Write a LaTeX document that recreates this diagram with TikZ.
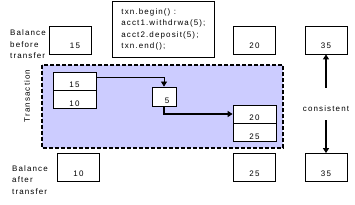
\documentclass[tikz,border=0pt]{standalone}
\usepackage{fontspec}
\setmainfont{Liberation Sans}[LetterSpace=14]
\usepackage{xcolor}
\usetikzlibrary{positioning,arrows.meta,calc}

\definecolor{txnfill}{HTML}{CCCCFF}

\begin{document}
\begin{tikzpicture}[
          x=1pt, y=-1pt,
          every node/.style={font=\fontsize{8}{11.5}\selectfont},
          acct/.style={draw, fill=white, line width=0.8pt, minimum width=42pt, minimum height=28pt, inner sep=0pt, text height=18pt, text depth=0pt},
          half/.style={draw, fill=white, line width=0.8pt, minimum width=43pt, minimum height=18pt, inner sep=0pt, text height=14pt, text depth=0pt},
          label/.style={align=left, anchor=north west, inner sep=0pt},
          flow/.style={-{Triangle[length=5pt,width=6pt]}, line width=1.6pt},
          thin flow/.style={-{Triangle[length=5pt,width=6pt]}, line width=0.8pt}
      ]
        \useasboundingbox (0,0) rectangle (355,205);
        % transaction area
        \draw[fill=txnfill, line width=1.6pt, dash pattern=on 4pt off 2pt] (42,65) rectangle (283,148);
        \node[rotate=90, inner sep=0pt] (txn) at (27,96) {Transaction};
        % code
        \node[draw, line width=0.8pt, fill=white, align=left, anchor=north west, minimum width=102pt, minimum height=55.5pt, inner xsep=9pt, inner ysep=0pt] (code) at (112,1.5)
          {txn.begin() :\\acct1.withdrwa(5);\\acct2.deposit(5);\\txn.end();};
        % before
        \node[label] (before) at (10,30) {Balance\\before\\transfer};
        \node[acct] (b15) at (70,40) {\hspace{10pt}15};
        \node[acct] (b20) at (254.5,40) {20};
        \node[acct] (b35) at (326,40) {35};
        % inside transaction
        \node[half] (t15) at (74.5,81) {15};
        \node[half, below=0pt of t15] (t10) {10};
        \node[half, minimum width=24pt, minimum height=19pt] (b5) at (164,96.5) {\hspace{6pt}5};
        \node[half] (a20) at (254.5,114) {20};
        \node[half, below=0pt of a20] (a25) {25};
        \draw[thin flow] ([yshift=-6pt]t15.north east) -| (b5.north);
        \draw[flow] (b5.south) |- (a20.west);
        % after
        \node[label] (after) at (12,165.5) {Balance\\after\\transfer};
        \node[acct] (f10) at (78.5,167.5) {10};
        \node[acct] (f25) at (254.5,167.5) {25};
        \node[acct] (f35) at (326,167.5) {35};
        % consistent
        \node[inner sep=0pt, text height=6pt, text depth=0pt] (cons) at (326,109) {consistent};
        \draw[flow, shorten <=18pt] (cons.north) -- (b35.south);
        \draw[flow, shorten <=8pt] (cons.south) -- (f35.north);
      \end{tikzpicture}
\end{document}
